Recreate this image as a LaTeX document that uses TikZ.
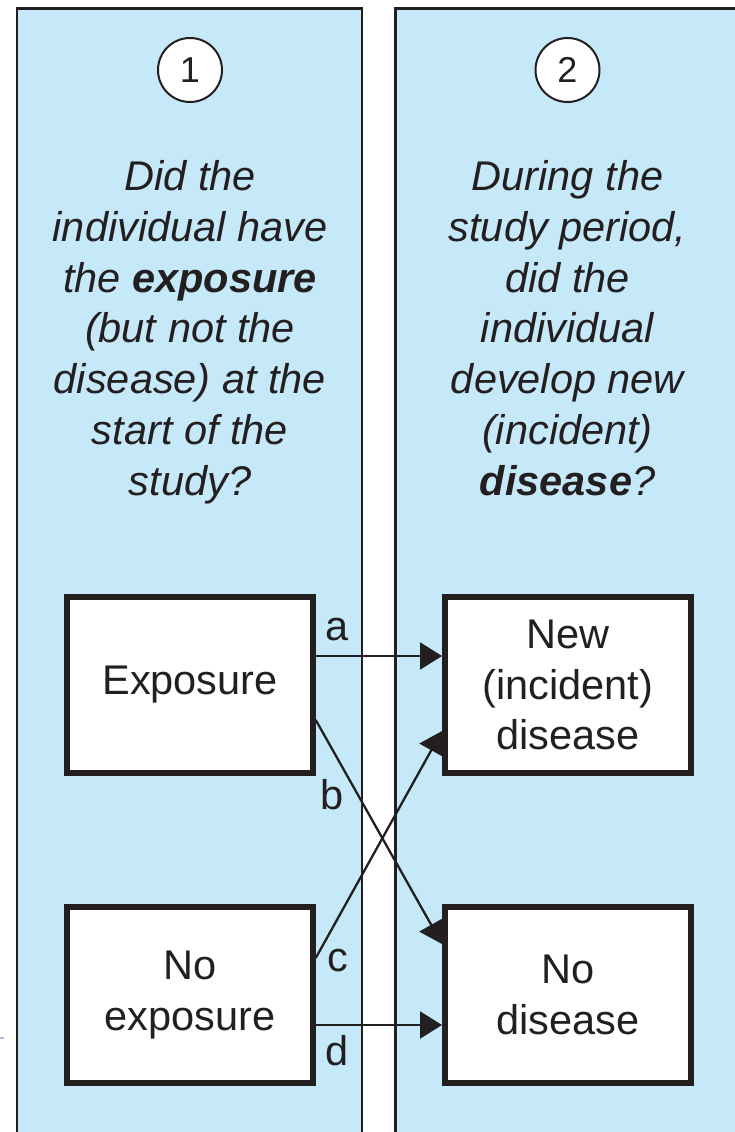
\documentclass[tikz,border=0pt]{standalone}
\usepackage{fontspec}
\setmainfont{Liberation Sans}
\usetikzlibrary{arrows.meta}
\definecolor{panelblue}{RGB}{197,233,248}
\definecolor{ink}{RGB}{35,31,32}
\definecolor{tickblue}{RGB}{160,190,220}
\newcommand{\boxfont}{\fontsize{41.5}{50.7}\selectfont}
\newcommand{\qfont}{\fontsize{41.5}{50.7}\selectfont\itshape}
\newcommand{\numfont}{\fontsize{36}{40}\selectfont}
\begin{document}
\begin{tikzpicture}[x=1pt,y=-1pt,
  panel/.style={fill=panelblue, draw=ink, line width=2.2pt},
  box/.style={rectangle, draw=ink, fill=white, line width=5.5pt,
    minimum width=246pt, minimum height=176pt, inner sep=0pt,
    align=center, font=\boxfont, text=ink},
  numcirc/.style={circle, draw=ink, fill=white, line width=2pt,
    minimum size=64pt, inner sep=0pt, font=\numfont, text=ink},
  question/.style={align=center, font=\qfont, text=ink, anchor=base, inner sep=0pt},
  lbl/.style={font=\boxfont, text=ink, anchor=base, inner sep=0pt},
  link/.style={draw=ink, line width=2.3pt, -{Triangle[length=22pt,width=27pt]}}]
\useasboundingbox (0,0) rectangle (735,1132);
\clip (0,0) rectangle (735,1132);

% the two step columns
\path[panel] (17,1145) -- (17,8.5) -- (362,8.5) -- (362,1145);
\path[panel] (395.5,1145) -- (395.5,8.5) -- (741,8.5) -- (741,1145);
\draw[tickblue, line width=1.5pt] (0,1038) -- (4,1038);

% step numbers
\node[numcirc] (n1) at (190,70) {1};
\node[numcirc] (n2) at (567.5,70) {2};

% questions (anchored on the baseline of their last line)
\node[question] (q1) at (190,495) {Did the\\individual have\\the \textbf{exposure}\\(but not the\\disease) at the\\start of the\\study?};
\node[question] (q2) at (567.5,495) {During the\\study period,\\did the\\individual\\develop new\\(incident)\\\textbf{disease}?};

% outcome boxes
\node[box] (exp) at (190,685) {Exposure};
\node[box] (noexp) at (190,995) {No\\exposure};
\node[box] (newdis) at (567.75,685) {New\\(incident)\\disease};
\node[box] (nodis) at (567.75,995) {No\\disease};

% heights where the connectors meet the boxes
\coordinate (ya) at (0,656);
\coordinate (yb1) at (0,720);
\coordinate (yb2) at (0,944);
\coordinate (yc1) at (0,958);
\coordinate (yc2) at (0,731);
\coordinate (yd) at (0,1025);

\draw[link] (exp.east |- ya) -- (newdis.west |- ya);
\draw[link] (exp.east |- yb1) -- (nodis.west |- yb2);
\draw[link] (noexp.east |- yc1) -- (newdis.west |- yc2);
\draw[link] (noexp.east |- yd) -- (nodis.west |- yd);

% connector labels
\node[lbl] (la) at (337,640) {a};
\node[lbl] (lb) at (332,809) {b};
\node[lbl] (lc) at (337.5,971) {c};
\node[lbl] (ld) at (337,1065) {d};
\end{tikzpicture}
\end{document}
